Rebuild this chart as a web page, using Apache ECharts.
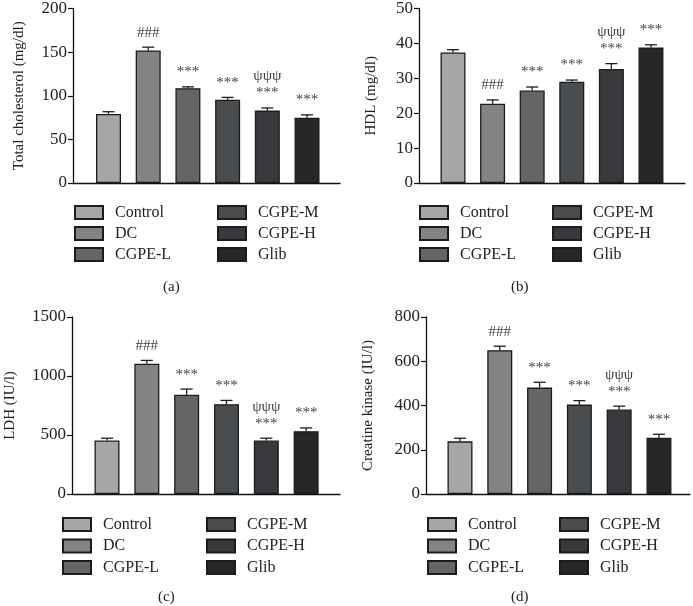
<!DOCTYPE html>
<html><head><meta charset="utf-8">
<script src="https://cdn.jsdelivr.net/npm/echarts@6/dist/echarts.min.js"></script>
<style>html,body{margin:0;padding:0;background:#fff}#c{width:693px;height:606px}</style>
</head><body><div id="c"></div>
<script>
const groups = ['Control', 'DC', 'CGPE-L', 'CGPE-M', 'CGPE-H', 'Glib'];
const colors = ['#a4a6a8', '#818385', '#646567', '#4a4d50', '#38393c', '#262729'];

const cholMean = [79, 152, 108.7, 95.5, 83, 74.7];
const cholErr = [2.7, 3.7, 1.5, 2.6, 3, 3.4];
const hdlMean = [37.4, 22.7, 26.5, 29.0, 32.7, 38.8];
const hdlErr = [0.8, 1.1, 1.0, 0.5, 1.5, 0.8];
const ldhMean = [453, 1104, 841, 761, 453, 532];
const ldhErr = [20, 28, 48, 32, 20, 28];
const ckMean = [238, 650, 481, 404, 382, 254];
const ckErr = [14, 18, 24, 18, 15, 16];

const cholMarks = ['', '###', '***', '***', 'ψψψ\n***', '***'];
const hdlMarks = ['', '###', '***', '***', 'ψψψ\n***', '***'];
const ldhMarks = ['', '###', '***', '***', 'ψψψ\n***', '***'];
const ckMarks = ['', '###', '***', '***', 'ψψψ\n***', '***'];

const yTitles = ['Total cholesterol (mg/dl)', 'HDL (mg/dl)', 'LDH (IU/l)', 'Creatine kinase (IU/l)'];
const yMax = [200, 50, 1500, 800];
const yStep = [50, 10, 500, 200];
const captions = ['(a)', '(b)', '(c)', '(d)'];

const FONT = '"Liberation Serif", "DejaVu Serif", serif';
const panels = [
  {mean: cholMean, err: cholErr, marks: cholMarks, grid: {left: 73, top: 6, width: 267, height: 177}, xr: [-0.894, 5.83], gap: 46,
   leg: [[74, 204.5], [217, 204.5]], cap: [172, 287], pitch: 21},
  {mean: hdlMean, err: hdlErr, marks: hdlMarks, grid: {left: 419, top: 6, width: 266, height: 177}, xr: [-0.859, 5.86], gap: 40,
   leg: [[419, 204.5], [552, 204.5]], cap: [520, 287], pitch: 21},
  {mean: ldhMean, err: ldhErr, marks: ldhMarks, grid: {left: 72, top: 317, width: 268, height: 177}, xr: [-0.879, 5.85], gap: 54,
   leg: [[62, 516.5], [206, 516.5]], cap: [167, 597], pitch: 21.5},
  {mean: ckMean, err: ckErr, marks: ckMarks, grid: {left: 426, top: 317, width: 264, height: 177}, xr: [-0.854, 5.78], gap: 50,
   leg: [[427, 516.5], [559, 516.5]], cap: [520, 597], pitch: 21.5}
];

const grid = [], xAxis = [], yAxis = [], series = [], legend = [], graphic = [];
panels.forEach((p, k) => {
  grid.push(Object.assign({containLabel: false}, p.grid));
  xAxis.push({type: 'value', gridIndex: k, min: p.xr[0], max: p.xr[1], show: true,
    axisLine: {show: true, onZero: false, lineStyle: {color: '#111', width: 1.3}},
    axisTick: {show: false}, axisLabel: {show: false}, splitLine: {show: false}, axisPointer: {show: false}});
  yAxis.push({type: 'value', gridIndex: k, min: 0, max: yMax[k], interval: yStep[k],
    name: yTitles[k], nameLocation: 'middle', nameGap: p.gap, nameRotate: 90,
    nameTextStyle: {fontFamily: FONT, fontSize: 15, color: '#222'},
    axisLine: {show: true, onZero: false, lineStyle: {color: '#111', width: 1.3}},
    axisTick: {show: true, length: 5, lineStyle: {color: '#111', width: 1.2}},
    axisLabel: {fontFamily: FONT, fontSize: 17, color: '#222', margin: 6, formatter: v => String(v)},
    splitLine: {show: false}});
  groups.forEach((g, i) => {
    series.push({type: 'bar', name: g, xAxisIndex: k, yAxisIndex: k, barWidth: 25, barGap: '-100%',
      itemStyle: {color: colors[i], borderColor: '#1c1c1c', borderWidth: 1.3},
      emphasis: {disabled: true}, animation: false, silent: true,
      data: [[i, p.mean[i]]]});
  });
  series.push({type: 'custom', xAxisIndex: k, yAxisIndex: k, animation: false, silent: true, z: 5,
    dimensions: ['x', 'mean', 'err'],
    data: p.mean.map((m, i) => [i, m, p.err[i]]),
    renderItem: function (params, api) {
      const x = api.value(0), m = api.value(1), e = api.value(2);
      const mark = p.marks[params.dataIndex];
      const b = api.coord([x, m]);
      const t = api.coord([x, m + e]);
      const children = [
        {type: 'line', shape: {x1: b[0], y1: b[1], x2: t[0], y2: t[1]}, style: {stroke: '#1c1c1c', lineWidth: 1.3}},
        {type: 'line', shape: {x1: t[0] - 6, y1: t[1], x2: t[0] + 6, y2: t[1]}, style: {stroke: '#1c1c1c', lineWidth: 1.3}}
      ];
      if (mark) {
        children.push({type: 'text', style: {text: mark, x: t[0], y: t[1] - 6, textAlign: 'center', textVerticalAlign: 'bottom',
          font: '15px ' + FONT, fill: '#444', lineHeight: 17}});
      }
      return {type: 'group', children: children};
    }});
  [[0, 3], [3, 6]].forEach((r, c) => {
    legend.push({left: p.leg[c][0], top: p.leg[c][1], orient: 'vertical', itemWidth: 28, itemHeight: 13, itemGap: p.pitch - 16,
      icon: 'rect', selectedMode: false, padding: 0,
      textStyle: {fontFamily: FONT, fontSize: 16, lineHeight: 16, color: '#222', padding: [0, 0, 0, 7]},
      data: groups.slice(r[0], r[1])});
  });
  graphic.push({type: 'text', left: p.cap[0] - 9, top: p.cap[1] - 7, style: {text: captions[k], font: '15px ' + FONT, fill: '#222'}});
});

const chart = echarts.init(document.getElementById('c'), null, {renderer: 'canvas'});
chart.setOption({animation: false, tooltip: {show: false}, grid, xAxis, yAxis, series, legend, graphic});
</script></body></html>
